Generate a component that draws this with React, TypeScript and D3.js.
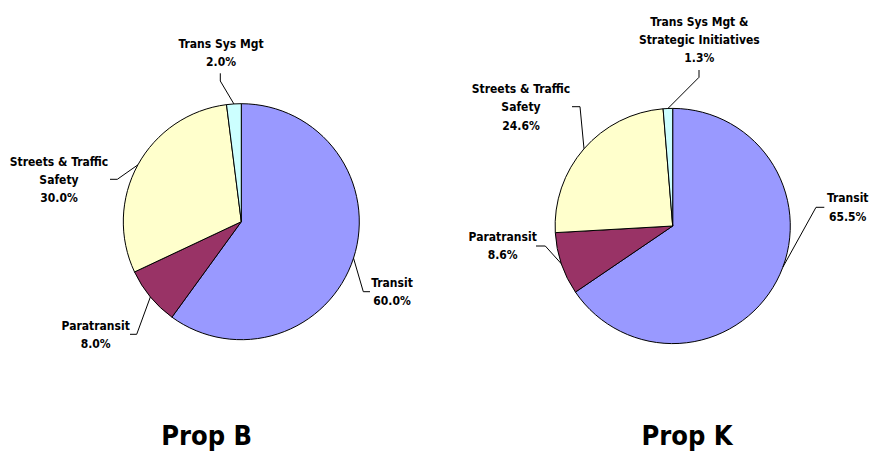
import * as React from "react";
import * as d3 from "d3";

// slice order: clockwise from 12 o'clock
const categories = ["Transit", "Paratransit", "Streets & Traffic Safety", "Trans Sys Mgt"];
const propBValues = [60.0, 8.0, 30.0, 2.0];
const propKValues = [65.5, 8.6, 24.6, 1.3];
const propBLabels = [["Transit"], ["Paratransit"], ["Streets & Traffic", "Safety"], ["Trans Sys Mgt"]];
const propKLabels = [
  ["Transit"],
  ["Paratransit"],
  ["Streets & Traffic", "Safety"],
  ["Trans Sys Mgt &", "Strategic Initiatives"],
];
const titles = ["Prop B", "Prop K"];

const colors = ["#9999FF", "#993366", "#FFFFCC", "#CCFFFF"];
const FONT = "'DejaVu Sans Condensed', 'DejaVu Sans', sans-serif";
const LINE_H = 18.3;

// label placement (text block centre + leader elbow), per pie and slice.
// angleDeg optionally overrides where the leader meets the rim.
type LabelLayout = {
  x: number;
  y: number;
  start: [number, number];
  elbow: [number, number];
  angleDeg?: number;
};
const propBLayout: LabelLayout[] = [
  { x: 392, y: 282.7, start: [370, 291.7], elbow: [363.3, 291.7] },
  { x: 95.7, y: 325.7, start: [130, 334.3], elbow: [136.7, 334.3] },
  { x: 59, y: 161.7, start: [110, 179.3], elbow: [117.3, 179.3] },
  { x: 221, y: 44, start: [220.3, 73.3], elbow: [220.3, 81] },
];
const propKLayout: LabelLayout[] = [
  { x: 847.7, y: 198.3, start: [824.3, 207.3], elbow: [816, 207.3], angleDeg: 110.5 },
  { x: 502.7, y: 236.7, start: [536, 246], elbow: [545.3, 246] },
  { x: 521, y: 89, start: [572, 106.7], elbow: [580, 106.7] },
  { x: 699.3, y: 21.5, start: [699, 70], elbow: [699, 77.3] },
];

interface PieProps {
  values: number[];
  labels: string[][];
  layout: LabelLayout[];
  cx: number;
  cy: number;
  r: number;
}

function Pie({ values, labels, layout, cx, cy, r }: PieProps) {
  const pie = d3.pie<number>().sort(null).value((d) => d);
  const arcs = pie(values);
  const arc = d3.arc<d3.PieArcDatum<number>>().innerRadius(0).outerRadius(r);
  const fmt = d3.format(".1f");

  return (
    <g>
      <g transform={`translate(${cx},${cy})`}>
        {arcs.map((a, i) => (
          <path key={categories[i]} d={arc(a) ?? ""} fill={colors[i]} stroke="#000" strokeWidth={1} />
        ))}
      </g>
      {arcs.map((a, i) => {
        const L = layout[i];
        const mid = L.angleDeg != null ? (L.angleDeg * Math.PI) / 180 : (a.startAngle + a.endAngle) / 2;
        const px = cx + r * Math.sin(mid);
        const py = cy - r * Math.cos(mid);
        const lines = [...labels[i], `${fmt(values[i])}%`];
        return (
          <g key={`lbl-${i}`}>
            <polyline
              points={`${L.start[0]},${L.start[1]} ${L.elbow[0]},${L.elbow[1]} ${px},${py}`}
              fill="none"
              stroke="#000"
              strokeWidth={1}
            />
            <text
              x={L.x}
              y={L.y}
              textAnchor="middle"
              fontFamily={FONT}
              fontWeight="bold"
              fontSize={12}
              fill="#000"
            >
              {lines.map((t, j) => (
                <tspan key={j} x={L.x} y={L.y + j * LINE_H} dominantBaseline="central">
                  {t}
                </tspan>
              ))}
            </text>
          </g>
        );
      })}
    </g>
  );
}

export default function App() {
  return (
    <svg
      width={872}
      height={451}
      viewBox="0 0 872 451"
      style={{ position: "absolute", left: 0, top: 0, background: "#fff" }}
    >
      <rect width={872} height={451} fill="#fff" />
      <Pie values={propBValues} labels={propBLabels} layout={propBLayout} cx={241.3} cy={221.7} r={118} />
      <Pie values={propKValues} labels={propKLabels} layout={propKLayout} cx={672.7} cy={226} r={117.6} />
      {titles.map((t, i) => (
        <text
          key={t}
          x={i === 0 ? 206.7 : 687}
          y={445}
          textAnchor="middle"
          fontFamily={FONT}
          fontWeight="bold"
          fontSize={27}
          fill="#000"
        >
          {t}
        </text>
      ))}
    </svg>
  );
}
